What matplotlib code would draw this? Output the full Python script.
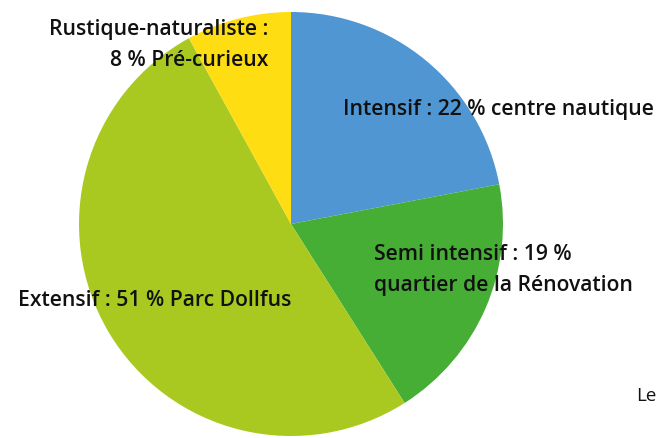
import matplotlib.pyplot as plt

labels = ["Intensif", "Semi intensif", "Extensif", "Rustique-naturaliste"]
shares = [22, 19, 51, 8]
places = ["centre nautique", "quartier de la Rénovation", "Parc Dollfus", "Pré-curieux"]
colors = ["#5096d2", "#46ad35", "#a9c920", "#fedd12"]

W, H = 664, 438

fig = plt.figure(figsize=(W / 100, H / 100), dpi=100)
ax = fig.add_axes([0, 0, 1, 1])

ax.pie(
    shares,
    colors=colors,
    startangle=90,
    counterclock=False,
    center=(291, H - 224),
    radius=212,
    wedgeprops=dict(linewidth=0),
    frame=True,
)
ax.set_xlim(0, W)
ax.set_ylim(0, H)
ax.axis("off")

font = dict(family="Open Sans", weight="semibold", size=15.2, color="#111111")

ax.text(343, H - 110, f"{labels[0]} : {shares[0]} % {places[0]}", ha="left", va="center", **font)
ax.text(374, H - 255, f"{labels[1]} : {shares[1]} %", ha="left", va="center", **font)
ax.text(374, H - 285, places[1], ha="left", va="center", **font)
ax.text(18, H - 301, f"{labels[2]} : {shares[2]} % {places[2]}", ha="left", va="center", **font)
ax.text(268, H - 30, f"{labels[3]} :", ha="right", va="center", **font)
ax.text(268, H - 60, f"{shares[3]} % {places[3]}", ha="right", va="center", **font)

ax.text(636, H - 396, "Le", ha="left", va="center", family="Open Sans", size=13.5, color="#111111")

fig.savefig("out.png", dpi=100)
